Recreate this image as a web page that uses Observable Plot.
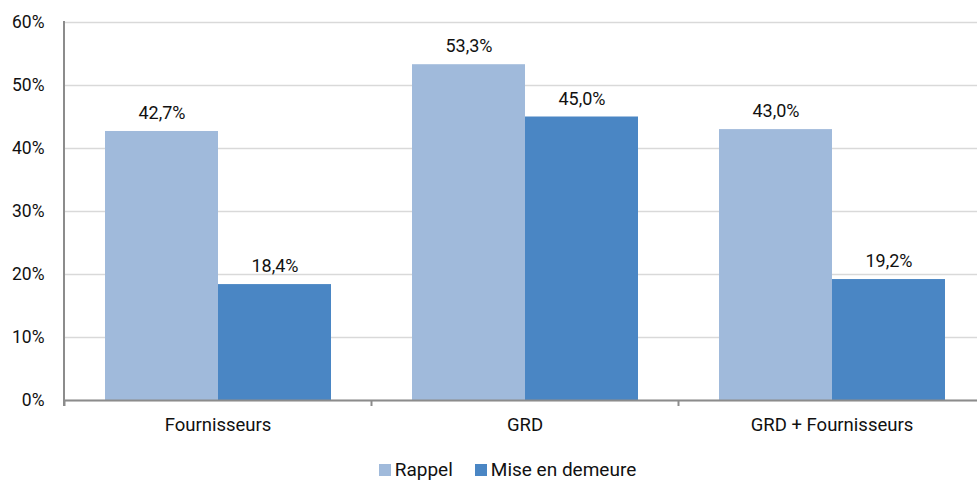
<!DOCTYPE html>
<html>
<head>
<meta charset="utf-8">
<script src="https://cdn.jsdelivr.net/npm/d3@7"></script>
<script src="https://cdn.jsdelivr.net/npm/@observablehq/plot@0.6"></script>
<style>
  html, body { margin: 0; padding: 0; background: #fff; overflow: hidden; }
  body { font-family: Roboto, "Noto Sans", sans-serif; }
  #legend { display: flex; justify-content: center; gap: 22px; font-size: 19px; line-height: 22px; color: #111; margin-top: 7px; padding-left: 38px; }
  #legend span.item { display: inline-flex; align-items: center; gap: 4px; }
  #legend span.sw { width: 12px; height: 12px; display: inline-block; }
</style>
</head>
<body>
<div id="chart"></div>
<script>
// Acteurs concernés et type de courrier
const categories = ["Fournisseurs", "GRD", "GRD + Fournisseurs"];
const series = ["Rappel", "Mise en demeure"];
const rappel = [42.7, 53.3, 43.0];
const miseEnDemeure = [18.4, 45.0, 19.2];
const yTicks = [0, 10, 20, 30, 40, 50, 60];
const colors = ["#a0badb", "#4a86c4"];

const rows = categories.flatMap((c, i) => [
  {categorie: c, serie: series[0], valeur: rappel[i]},
  {categorie: c, serie: series[1], valeur: miseEnDemeure[i]}
]);

const W = 977, H = 452;
const mL = 64, mR = -8;
const band = (W - mL - mR) / categories.length;
const fmt = v => v.toFixed(1).replace(".", ",") + "%";

const chart = Plot.plot({
  width: W,
  height: H,
  marginLeft: mL,
  marginRight: mR,
  marginTop: 22,
  marginBottom: 52,
  style: {fontFamily: "Roboto, sans-serif", fontSize: "17px", color: "#111", background: "#fff"},
  fx: {domain: categories, padding: 0, label: null},
  x: {domain: series, paddingInner: 0, paddingOuter: 0.352, axis: null},
  y: {domain: [0, 60], ticks: yTicks, label: null},
  color: {domain: series, range: colors},
  marks: [
    Plot.gridY(yTicks, {stroke: "#d9d9d9", strokeOpacity: 1, strokeWidth: 1.5}),
    Plot.axisY(yTicks, {tickSize: 0, tickPadding: 20, tickFormat: d => d + "%", fontSize: "17.5px", label: null}),
    Plot.barY(rows, {fx: "categorie", x: "serie", y: "valeur", fill: "serie"}),
    Plot.text(rows, {fx: "categorie", x: "serie", y: "valeur", text: d => fmt(d.valeur), dy: -18, fontSize: "18px", fill: "#111"}),
    Plot.ruleY([0], {stroke: "#8c8c8c", strokeWidth: 2}),
    Plot.axisFx({anchor: "bottom", tickSize: 0, tickPadding: 17, fontSize: "18.5px", label: null}),
    Plot.axisFx({anchor: "bottom", text: null, tickSize: 6, stroke: "#8c8c8c", strokeWidth: 2, dx: -band / 2, label: null})
  ]
});

// left vertical axis line
d3.select(chart).append("line")
  .attr("x1", mL).attr("x2", mL)
  .attr("y1", 21).attr("y2", H - 52 + 6)
  .attr("stroke", "#8c8c8c").attr("stroke-width", 2);

document.getElementById("chart").append(chart);

const legend = d3.select("body").append("div").attr("id", "legend");
series.forEach((s, i) => {
  const it = legend.append("span").attr("class", "item");
  it.append("span").attr("class", "sw").style("background", colors[i]);
  it.append("span").text(s);
});
</script>
</body>
</html>
